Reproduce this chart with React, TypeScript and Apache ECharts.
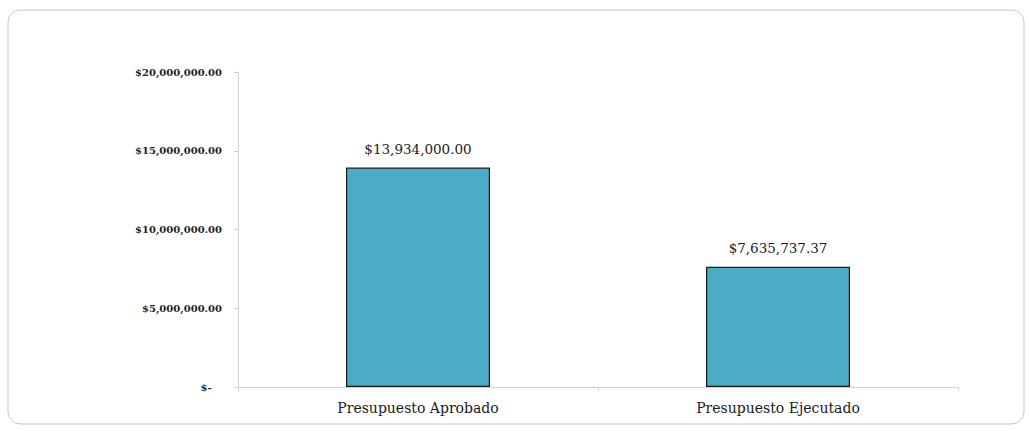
import React, { useEffect, useRef } from "react";
import * as echarts from "echarts";

const categories = ["Presupuesto Aprobado", "Presupuesto Ejecutado"];
const values = [13934000.0, 7635737.37];
const yTicks = [0, 5000000, 10000000, 15000000, 20000000];

const money = (v: number) =>
  "$" + v.toLocaleString("en-US", { minimumFractionDigits: 2, maximumFractionDigits: 2 });

export default function App() {
  const ref = useRef<HTMLDivElement>(null);
  useEffect(() => {
    if (!ref.current) return;
    const chart = echarts.init(ref.current, null, { renderer: "svg" });
    const serif = "'DejaVu Serif', 'Liberation Serif', serif";
    chart.setOption({
      animation: false,
      backgroundColor: "#ffffff",
      graphic: [
        {
          type: "rect",
          shape: { x: 8, y: 10, width: 1016, height: 414, r: 12 },
          style: { fill: "none", stroke: "#c8c8c8", lineWidth: 1 },
          silent: true,
        },
      ],
      grid: { left: 238, right: 71, top: 72, bottom: 44, containLabel: false },
      xAxis: {
        type: "category",
        data: categories,
        axisLine: { lineStyle: { color: "#d0d0d0" } },
        axisTick: { show: true, alignWithLabel: false, length: 4, lineStyle: { color: "#d0d0d0" } },
        axisLabel: { color: "#1a1a1a", fontFamily: serif, fontSize: 14, margin: 14 },
      },
      yAxis: {
        type: "value",
        min: yTicks[0],
        max: yTicks[yTicks.length - 1],
        interval: yTicks[1] - yTicks[0],
        axisLine: { show: true, lineStyle: { color: "#d0d0d0" } },
        axisTick: { show: true, length: 4, lineStyle: { color: "#d0d0d0" } },
        splitLine: { show: false },
        axisLabel: {
          color: "#222",
          fontFamily: serif,
          fontWeight: "bold",
          fontSize: 10,
          margin: 16,
          formatter: (v: number) => (v === 0 ? "$-\u00a0\u00a0\u00a0" : money(v)),
        },
      },
      series: [
        {
          type: "bar",
          data: values,
          barWidth: "40%",
          itemStyle: { color: "#4bacc6", borderColor: "#1a1a1a", borderWidth: 1.2 },
          label: {
            show: true,
            position: "top",
            distance: 12,
            color: "#1a1a1a",
            fontFamily: serif,
            fontSize: 13.5,
            formatter: (p: any) => money(p.value),
          },
        },
      ],
    });
    return () => chart.dispose();
  }, []);
  return (
    <div
      ref={ref}
      style={{ position: "fixed", left: 0, top: 0, width: 1029, height: 431 }}
    />
  );
}
